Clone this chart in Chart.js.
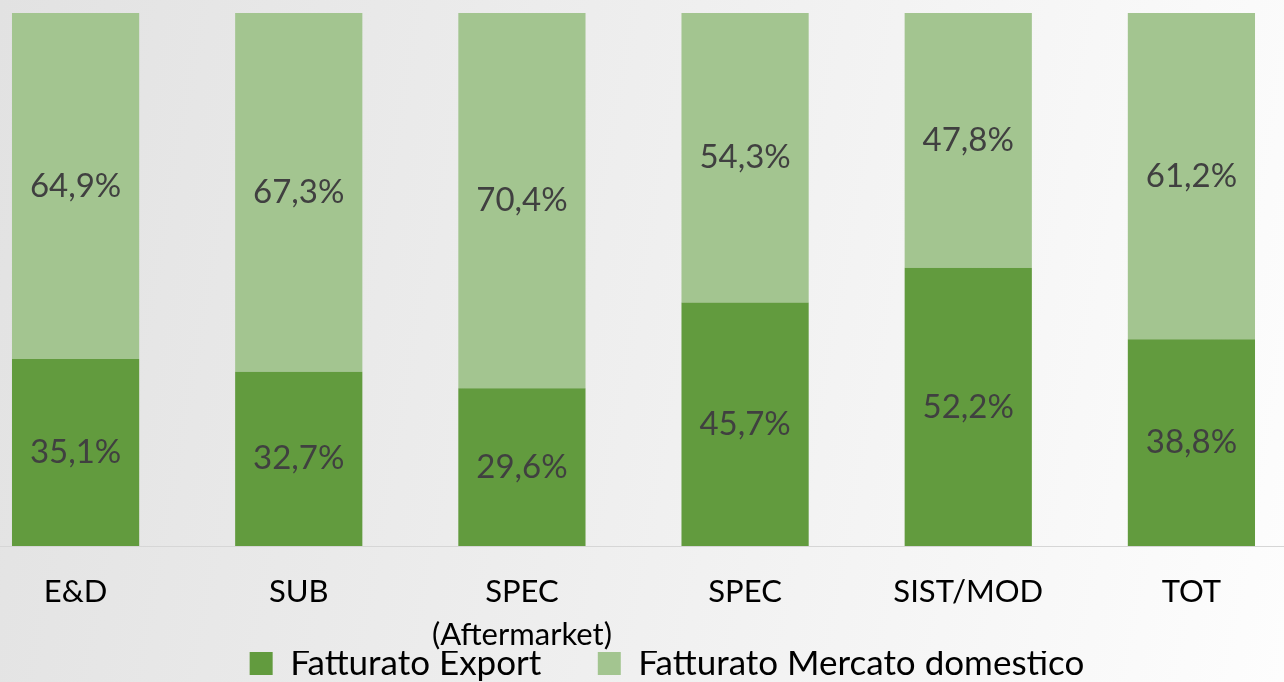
<!DOCTYPE html>
<html>
<head>
<meta charset="utf-8">
<script src="https://cdn.jsdelivr.net/npm/chart.js@4/dist/chart.umd.min.js"></script>
<style>
  html, body { margin: 0; padding: 0; width: 1284px; height: 682px; overflow: hidden;
    background: linear-gradient(100deg, #e2e2e2 0%, #efefef 50%, #fdfdfd 100%); }
  #wrap { position: absolute; left: -36px; top: 0; width: 1406px; height: 691px; }
  canvas { display: block; }
</style>
</head>
<body>
<div id="wrap"><canvas id="c" width="1406" height="691"></canvas></div>
<script>
const categories = ['E&D', 'SUB', ['SPEC', '(Aftermarket)'], 'SPEC', 'SIST/MOD', 'TOT'];
const seriesNames = ['Fatturato Export', 'Fatturato Mercato domestico'];
const exportValues = [35.1, 32.7, 29.6, 45.7, 52.2, 38.8];
const domesticValues = [64.9, 67.3, 70.4, 54.3, 47.8, 61.2];

const FONT = 'Lato, "Open Sans", sans-serif';

const valueLabels = {
  id: 'valueLabels',
  afterDatasetsDraw(chart) {
    const ctx = chart.ctx;
    ctx.save();
    ctx.font = '33px ' + FONT;
    ctx.fillStyle = '#404040';
    ctx.textAlign = 'center';
    ctx.textBaseline = 'middle';
    chart.data.datasets.forEach((ds, di) => {
      const meta = chart.getDatasetMeta(di);
      meta.data.forEach((el, i) => {
        const v = ds.data[i];
        const txt = v.toFixed(1).replace('.', ',') + '%';
        ctx.fillText(txt, el.x, (el.y + el.base) / 2);
      });
    });
    ctx.restore();
  }
};

new Chart(document.getElementById('c'), {
  type: 'bar',
  data: {
    labels: categories,
    datasets: [
      { label: seriesNames[0], data: exportValues, backgroundColor: '#629b3e', borderWidth: 0 },
      { label: seriesNames[1], data: domesticValues, backgroundColor: '#a3c590', borderWidth: 0 }
    ]
  },
  options: {
    responsive: false,
    animation: false,
    layout: { padding: { top: 13, left: 0, right: 0, bottom: 0 } },
    datasets: { bar: { categoryPercentage: 1, barPercentage: 0.57 } },
    scales: {
      x: {
        stacked: true,
        grid: { display: false, drawTicks: false },
        border: { display: true, color: '#d6d6d6', width: 1 },
        ticks: { color: '#000', font: { family: FONT, size: 31, lineHeight: 1.39 }, padding: 24, maxRotation: 0, autoSkip: false },
        afterFit(s) { s.height = 105; }
      },
      y: {
        stacked: true,
        position: 'right',
        min: 0, max: 100,
        grid: { display: false },
        border: { display: false },
        ticks: { display: false },
        afterFit(s) { s.width = 67; }
      }
    },
    plugins: {
      legend: {
        position: 'bottom',
        labels: {
          color: '#000', font: { family: FONT, size: 35 }, boxWidth: 23, boxHeight: 23, padding: -5,
          generateLabels(chart) {
            const items = Chart.defaults.plugins.legend.labels.generateLabels(chart);
            items.forEach((it, i) => { if (i < items.length - 1) it.text = it.text + '\u2003\u2003 '; });
            return items;
          }
        }
      },
      tooltip: { enabled: false }
    }
  },
  plugins: [valueLabels]
});
</script>
</body>
</html>
